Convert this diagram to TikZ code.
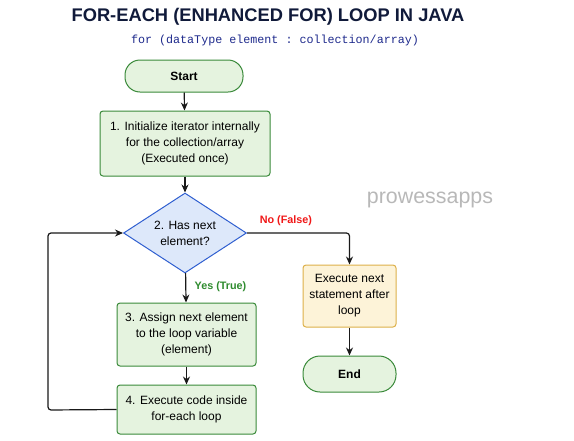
\documentclass[tikz,border=0pt]{standalone}
\usepackage{fontspec}
\setmainfont{Liberation Sans}
\setmonofont{Liberation Mono}
\usetikzlibrary{shapes.geometric,arrows.meta}
\definecolor{gfill}{HTML}{E5F3DF}
\definecolor{gline}{HTML}{3A8A3A}
\definecolor{bfill}{HTML}{DDE8FA}
\definecolor{bline}{HTML}{2F5FD0}
\definecolor{yfill}{HTML}{FDF3D8}
\definecolor{yline}{HTML}{DDB04A}
\definecolor{navy}{HTML}{101A3A}
\definecolor{codeblue}{HTML}{1E2A8C}
\definecolor{yesgreen}{HTML}{2E8B2E}
\definecolor{nored}{HTML}{F01818}
\tikzset{
  pill/.style={draw=gline, fill=gfill, line width=1pt, rounded corners=15pt, align=center, font=\fontsize{12}{14}\selectfont\bfseries},
  procbox/.style={draw=gline, fill=gfill, line width=1pt, rounded corners=3pt, align=center, font=\fontsize{12}{16}\selectfont},
  exitbox/.style={draw=yline, fill=yfill, line width=1pt, rounded corners=3pt, align=center, font=\fontsize{12}{16}\selectfont},
  decision/.style={diamond, draw=bline, fill=bfill, line width=1pt, align=center, font=\fontsize{12}{16}\selectfont, inner sep=0pt, minimum width=123pt, minimum height=80pt, aspect=1.54},
  conn/.style={draw=black!90, line width=1.2pt, -{Stealth[length=8pt,width=7pt]}, rounded corners=3pt},
  lbl/.style={font=\fontsize{10.8}{12}\selectfont\bfseries}
}
\begin{document}
\begin{tikzpicture}[x=1pt,y=-1pt]
\useasboundingbox (0,0) rectangle (574,440);
\node[font=\fontsize{18.3}{20}\selectfont\bfseries, text=navy] (title) at (268,17) {FOR-EACH (ENHANCED FOR) LOOP IN JAVA};
\node[font=\fontsize{11.7}{13}\selectfont\ttfamily, text=codeblue] (sub) at (275,40) {for (dataType element : collection/array)};
\node[font=\fontsize{21.4}{24}\selectfont, text=black!28] (wm) at (430,200) {prowessapps};

\node[pill, minimum width=118pt, minimum height=32pt] (start) at (184,76) {Start};
\node[procbox, minimum width=170pt, minimum height=65pt] (init) at (185,143.5) {1. Initialize iterator internally\\for the collection/array\\(Executed once)};
\node[decision] (has) at (185,233) {2. Has next\\element?};
\node[procbox, minimum width=139pt, minimum height=63pt] (assign) at (186.5,334.5) {3. Assign next element\\to the loop variable\\(element)};
\node[procbox, minimum width=139pt, minimum height=49pt] (exec) at (186.5,409.5) {4. Execute code inside\\for-each loop};
\node[exitbox, minimum width=93pt, minimum height=62pt] (next) at (349.5,296) {Execute next\\statement after\\loop};
\node[pill, minimum width=93pt, minimum height=36pt, rounded corners=17pt] (end) at (349.5,374) {End};

\draw[conn] (start) -- (init);
\draw[conn] (init) -- (has);
\draw[conn] (has) -- node[lbl, text=yesgreen, right=5pt, pos=0.45] {Yes (True)} (assign);
\draw[conn] (assign) -- (exec);
\coordinate (lb) at (48,410);
\coordinate (lt) at (48,233);
\draw[conn] (exec.west) -- (lb) -- (lt) -- (has.west);
\coordinate (nr) at (349.5,233);
\draw[conn] (has.east) -- node[lbl, text=nored, above=3pt, pos=0.38] {No (False)} (nr) -- (next.north);
\draw[conn] (next) -- (end);
\end{tikzpicture}
\end{document}
